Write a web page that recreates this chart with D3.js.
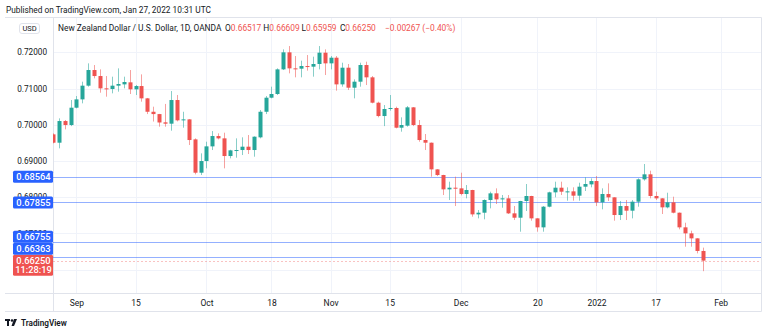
<!DOCTYPE html>
<html><head><meta charset="utf-8">
<script src="https://cdn.jsdelivr.net/npm/d3@7"></script>
<style>body{margin:0;background:#fff}svg{display:block;font-family:Roboto,"Open Sans",sans-serif}</style>
</head><body><svg id="c" width="768" height="335"></svg>
<script>
const opens=[.69735,.69505,.70103,.69993,.70471,.70701,.71079,.71511,.71345,.71005,.70987,.71079,.71115,.71171,.70978,.71069,.70729,.70359,.70295,.70067,.70030,.70683,.70122,.70149,.69597,.68677,.68999,.69404,.69689,.69625,.69137,.69285,.69303,.69395,.69303,.69653,.70359,.70747,.70849,.71529,.71999,.71557,.71548,.71621,.71603,.71677,.71989,.71695,.71851,.71115,.71575,.71023,.71189,.71649,.71309,.70609,.70241,.70435,.70463,.69919,.69975,.70481,.69993,.69579,.69505,.68769,.68613,.68217,.68263,.68245,.68089,.68199,.67527,.67573,.67923,.68107,.67941,.67969,.67555,.67435,.67896,.68034,.67417,.67169,.67739,.68135,.68263,.68144,.68162,.68043,.68291,.68355,.68447,.67859,.68089,.67997,.67509,.67757,.67629,.67877,.68494,.68632,.68034,.67969,.67721,.67859,.67573,.67169,.67003,.66865,.66517];
const highs=[.69763,.70177,.70131,.70683,.70793,.71189,.71695,.71649,.71529,.71345,.71327,.71557,.71327,.71511,.71098,.71391,.70740,.70499,.70300,.70575,.70931,.70821,.70359,.70155,.69625,.69211,.69533,.69827,.69763,.69781,.69310,.69625,.69653,.69717,.69680,.70407,.70793,.71051,.71557,.72081,.72173,.71897,.71769,.71925,.71879,.72173,.72081,.71897,.71897,.71713,.71677,.71253,.71713,.71741,.71345,.70637,.70545,.70821,.70499,.70205,.70517,.70490,.70131,.69745,.69510,.68775,.68620,.68429,.68567,.68677,.68337,.68205,.67647,.67941,.68153,.68245,.68061,.68061,.67757,.67900,.68365,.68040,.67420,.67757,.68153,.68429,.68429,.68273,.68273,.68401,.68549,.68521,.68586,.68245,.68383,.68000,.67896,.67923,.67923,.68521,.68917,.68733,.68153,.67975,.68125,.68015,.67578,.67297,.67077,.66870,.66609];
const lows=[.69487,.69349,.69873,.69963,.70453,.70591,.71051,.71281,.70885,.70775,.70867,.70913,.71005,.70849,.70821,.70637,.70295,.70089,.69947,.69947,.69837,.70094,.69919,.69441,.68631,.68613,.68797,.69303,.69597,.68797,.69073,.69091,.69165,.69193,.69119,.69625,.70295,.70729,.70821,.71511,.71419,.71309,.71309,.71493,.71327,.71529,.71373,.71529,.70941,.71051,.70959,.70729,.71051,.71097,.70591,.70205,.69963,.70389,.69901,.69809,.69947,.69963,.69533,.69303,.68567,.68585,.68061,.67923,.67757,.68052,.67969,.67463,.67417,.67390,.67693,.67813,.67711,.67537,.67371,.67049,.67620,.67353,.67049,.67049,.67721,.67997,.68061,.67905,.67905,.67905,.68172,.68273,.67757,.67666,.67896,.67353,.67371,.67371,.67417,.67739,.68457,.67969,.67923,.67537,.67693,.67555,.67114,.66635,.66635,.66451,.65959];
const closes=[.69505,.70103,.69993,.70471,.70701,.71079,.71511,.71345,.71005,.70996,.71079,.71125,.71180,.70978,.71069,.70729,.70359,.70295,.70063,.70030,.70683,.70122,.70149,.69579,.68677,.68999,.69404,.69689,.69625,.69137,.69294,.69303,.69395,.69303,.69671,.70359,.70747,.70849,.71529,.71999,.71557,.71540,.71621,.71603,.71677,.71989,.71695,.71851,.71115,.71575,.71023,.71189,.71649,.71309,.70609,.70241,.70435,.70463,.69919,.69993,.70481,.69993,.69579,.69505,.68769,.68613,.68217,.68263,.68237,.68089,.68199,.67527,.67573,.67923,.68107,.67941,.67969,.67555,.67435,.67896,.68034,.67417,.67169,.67739,.68135,.68263,.68153,.68162,.68043,.68291,.68365,.68447,.67859,.68089,.67997,.67509,.67757,.67629,.67877,.68494,.68632,.68034,.67969,.67721,.67859,.67573,.67169,.67003,.66865,.66517,.66250];
const gridPrices=[0.66,0.67,0.68,0.69,0.70,0.71,0.72];
const priceTickLabels=[0.67,0.68,0.69,0.70,0.71,0.72];
const timeTickDates=["2021-09-01","2021-09-15","2021-10-01","2021-10-18","2021-11-01","2021-11-15","2021-12-01","2021-12-20","2022-01-03","2022-01-17","2022-02-01"];
const timeTickLabels=["Sep","15","Oct","18","Nov","15","Dec","20","2022","17","Feb"];
const levelValues=[0.68564,0.67855,0.66755,0.66363];
const lastPrice=0.66250;
const countdown="11:28:19";
const legendTitle="New Zealand Dollar / U.S. Dollar, 1D, OANDA";
const legendKeys=["O","H","L","C"];
const legendVals=["0.66517","0.66609","0.65959","0.66250"];
const legendChange="\u22120.00267 (\u22120.40%)";

const fmt=d3.timeFormat("%Y-%m-%d");
const days=d3.timeDays(new Date(2021,7,26),new Date(2022,1,2)).filter(d=>d.getDay()!==0&&d.getDay()!==6).map(fmt);
const candles=closes.map((c,i)=>({date:days[i],o:opens[i],h:highs[i],l:lows[i],c:c}));

const W=768,H=335, L=53, R=761, T=17.5, B=293, AXB=311;
const svg=d3.select("#c");
svg.append("rect").attr("width",W).attr("height",H).attr("fill","#fff");
const x=d3.scalePoint().domain(days).range([52.8,720.6]);
const y=d3.scaleLinear().domain([0.66,0.72]).range([269.7,52.3]);
const TXT="#131722", GRID="#f0f3fa", FRAME="#e0e3eb";
const UP="#26a69a", DN="#ef5350";

svg.append("clipPath").attr("id","pane").append("rect").attr("x",L).attr("y",T).attr("width",R-L).attr("height",B-T);
const grid=svg.append("g").attr("clip-path","url(#pane)");
grid.selectAll(".hg").data(gridPrices).join("line").attr("x1",L).attr("x2",R)
 .attr("y1",d=>Math.round(y(d))+0.5).attr("y2",d=>Math.round(y(d))+0.5).attr("stroke",GRID);
grid.selectAll(".vg").data(timeTickDates).join("line").attr("y1",T).attr("y2",B)
 .attr("x1",d=>Math.round(x(d))+0.5).attr("x2",d=>Math.round(x(d))+0.5).attr("stroke",GRID);
const fr=svg.append("g").attr("stroke",FRAME).attr("fill","none");
fr.append("line").attr("x1",5).attr("x2",R+0.5).attr("y1",T).attr("y2",T);
fr.append("line").attr("x1",5).attr("x2",R+0.5).attr("y1",B+0.5).attr("y2",B+0.5);
fr.append("line").attr("x1",5).attr("x2",R+0.5).attr("y1",AXB+0.5).attr("y2",AXB+0.5);
fr.append("line").attr("x1",L+0.5).attr("x2",L+0.5).attr("y1",T).attr("y2",AXB+0.5);
fr.append("line").attr("x1",R+0.5).attr("x2",R+0.5).attr("y1",T).attr("y2",AXB+0.5);

const pane=svg.append("g").attr("clip-path","url(#pane)");
pane.selectAll(".lvl").data(levelValues).join("line").attr("x1",L).attr("x2",R)
 .attr("y1",d=>Math.round(y(d))+0.5).attr("y2",d=>Math.round(y(d))+0.5)
 .attr("stroke","#2962ff").attr("stroke-opacity",0.5);
pane.append("line").attr("x1",L).attr("x2",R).attr("y1",Math.round(y(lastPrice))+0.5).attr("y2",Math.round(y(lastPrice))+0.5)
 .attr("stroke",DN).attr("stroke-opacity",0.35).attr("stroke-dasharray","2,2");
const cg=pane.selectAll(".cd").data(candles).join("g");
cg.append("line").attr("x1",d=>Math.round(x(d.date))+0.5).attr("x2",d=>Math.round(x(d.date))+0.5)
 .attr("y1",d=>y(d.h)).attr("y2",d=>y(d.l))
 .attr("stroke",d=>d.c>=d.o?UP:DN).attr("stroke-opacity",0.55);
cg.append("rect").attr("x",d=>Math.round(x(d.date))-1.5).attr("width",4)
 .attr("y",d=>y(Math.max(d.o,d.c))).attr("height",d=>Math.max(1,Math.abs(y(d.o)-y(d.c))))
 .attr("fill",d=>d.c>=d.o?UP:DN);

// price axis
const pa=svg.append("g").attr("transform","translate(50,0)")
 .call(d3.axisLeft(y).tickValues(priceTickLabels).tickFormat(d3.format(".5f")).tickSize(0).tickPadding(3));
pa.select(".domain").remove();
pa.selectAll("text").attr("fill",TXT).attr("font-size",8.2).attr("font-family","Roboto");

// price labels with stacking
const lbls=[{v:lastPrice,fill:DN,lines:[d3.format(".5f")(lastPrice),countdown]}]
 .concat(levelValues.map(v=>({v:v,fill:"#2962ff",lines:[d3.format(".5f")(v)]})));
lbls.sort((a,b)=>a.v-b.v);
let prevTop=Infinity;
lbls.forEach(l=>{
  const hgt=l.lines.length===2?21:12;
  let top=y(l.v)-6;
  if(top+hgt>prevTop) top=prevTop-hgt;
  l.top=top; l.h=hgt; prevTop=top;
});
const lg=svg.append("g");
lbls.forEach(l=>{
  lg.append("rect").attr("x",13).attr("y",l.top).attr("width",40).attr("height",l.h).attr("rx",1.5).attr("fill",l.fill);
  l.lines.forEach((t,i)=>{
    lg.append("text").attr("x",33.5).attr("y",l.top+6+i*9.5).attr("dy","0.35em").attr("text-anchor","middle")
     .attr("fill","#fff").attr("font-size",9.3).attr("font-weight",500).text(t);
  });
});

// time axis
const ta=svg.append("g").attr("transform",`translate(0,${B})`)
 .call(d3.axisBottom(x).tickValues(timeTickDates).tickFormat(d=>timeTickLabels[timeTickDates.indexOf(d)]).tickSize(0).tickPadding(6.5));
ta.select(".domain").remove();
ta.selectAll("text").attr("fill",TXT).attr("font-size",8.5).attr("font-family","Roboto");

// header
svg.append("text").attr("x",6).attr("y",13).attr("fill",TXT).attr("font-size",8.3).text("Published on TradingView.com, Jan 27, 2022 10:31 UTC");
svg.append("rect").attr("x",19.5).attr("y",23.5).attr("width",20).attr("height",10).attr("rx",2.5).attr("fill","#fff").attr("stroke",FRAME);
svg.append("text").attr("x",29.5).attr("y",31.2).attr("text-anchor","middle").attr("fill",TXT).attr("font-size",7.5).text("USD");
svg.append("text").attr("x",58).attr("y",31).attr("font-size",8.4).attr("fill",TXT).text(legendTitle);
const groupX=d3.scaleLinear().domain([0,1]).range([225,263.3]);
legendKeys.forEach((k,i)=>{
  const t=svg.append("text").attr("x",groupX(i)).attr("y",31).attr("font-size",8.4).attr("fill",TXT);
  t.append("tspan").text(k);
  t.append("tspan").attr("fill",DN).text(legendVals[i]);
});
svg.append("text").attr("x",385).attr("y",31).attr("font-size",8.4).attr("fill",DN).text(legendChange);

// footer logo
const lo=svg.append("g").attr("fill",TXT);
lo.append("rect").attr("x",5).attr("y",319).attr("width",5).attr("height",2);
lo.append("rect").attr("x",7).attr("y",319).attr("width",2).attr("height",7);
lo.append("circle").attr("cx",12).attr("cy",320.5).attr("r",1.3);
lo.append("path").attr("d","M14,319 L17,319 L14,326 L11.5,326 Z");
svg.append("text").attr("x",21).attr("y",326).attr("fill",TXT).attr("font-size",8.2).attr("font-weight",600).text("TradingView");
</script></body></html>
